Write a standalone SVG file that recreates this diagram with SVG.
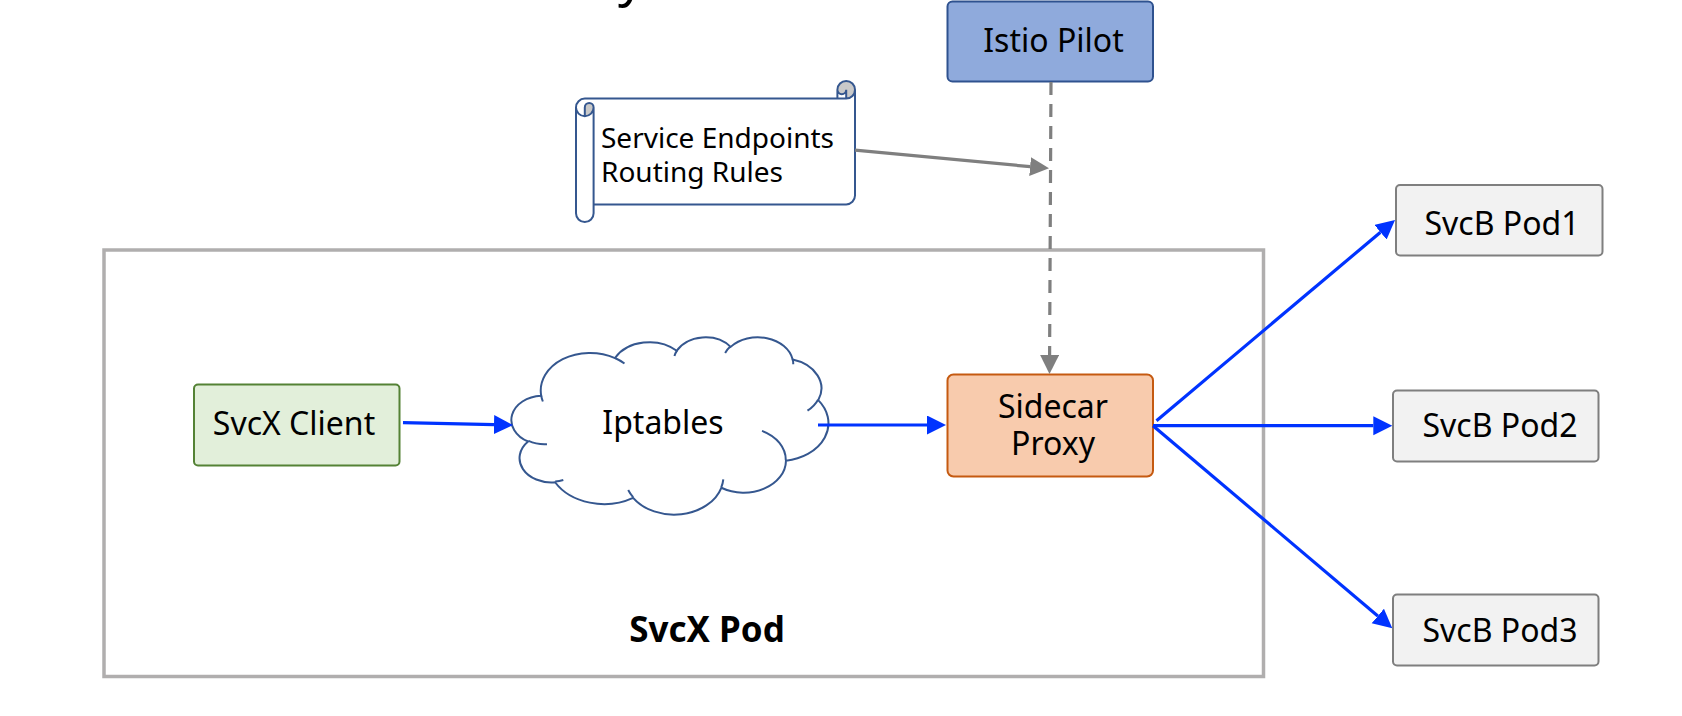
<svg xmlns="http://www.w3.org/2000/svg" width="1682" height="716" viewBox="0 0 1682 716">
<style>
text{font-family:"Noto Sans","Open Sans","Liberation Sans",sans-serif;fill:#000}
.lbl{font-size:32px;text-anchor:middle}
.box{stroke-width:2}
.pod{fill:#f2f2f2;stroke:#7f7f7f;stroke-width:2}
.blue{stroke:#0033ff;stroke-width:3.2;fill:none}
.gray{stroke:#7f7f7f;stroke-width:3.2;fill:none}
.cl{stroke:#35578f;stroke-width:2}
</style>
<defs>
<marker id="ab" markerUnits="userSpaceOnUse" markerWidth="20" markerHeight="20" refX="0" refY="9.5" orient="auto" viewBox="0 0 20 20"><path d="M0,0 L19,9.5 L0,19 Z" fill="#0033ff"/></marker>
<marker id="ag" markerUnits="userSpaceOnUse" markerWidth="20" markerHeight="20" refX="0" refY="9.5" orient="auto" viewBox="0 0 20 20"><path d="M0,0 L19,9.5 L0,19 Z" fill="#7f7f7f"/></marker>
</defs>
<rect width="1682" height="716" fill="#fff"/>
<text x="618" y="-5" style="font-size:52px">y</text>
<g id="svcx-pod">
<rect x="104" y="250" width="1159.5" height="426.5" fill="none" stroke="#b0aeae" stroke-width="3.5"/>
<text x="707" y="642" class="lbl" style="font-weight:bold;font-size:35px">SvcX Pod</text>
</g>
<g id="istio-pilot">
<rect x="947.5" y="1.5" width="205.5" height="80" rx="5" class="box" fill="#8faadc" stroke="#2f528f"/>
<text x="1053.5" y="52" class="lbl">Istio Pilot</text>
</g>
<g id="scroll">
<path d="M576,107.4 A8.8,8.8 0 0 1 584.8,98.6 L837.4,98.6 L837.4,89.8 A8.8,8.8 0 0 1 855,89.8 L855,195.6 A8.8,8.8 0 0 1 846.2,204.4 L593.6,204.4 L593.6,213.2 A8.8,8.8 0 0 1 576,213.2 Z" fill="#fff" stroke="none"/>
<path d="M584.8,116.2 A8.8,8.8 0 0 0 593.6,107.4 A4.4,4.4 0 0 0 584.8,107.4 Z M846.2,98.6 A8.8,8.8 0 1 0 837.4,89.8 A4.4,4.4 0 0 0 846.2,89.8 Z" fill="#c9c9c9" stroke="none"/>
<path d="M576,107.4 A8.8,8.8 0 0 1 584.8,98.6 L837.4,98.6 L837.4,89.8 A8.8,8.8 0 0 1 855,89.8 L855,195.6 A8.8,8.8 0 0 1 846.2,204.4 L593.6,204.4 L593.6,213.2 A8.8,8.8 0 0 1 576,213.2 Z M837.4,98.6 L846.2,98.6 A8.8,8.8 0 0 0 855,89.8 M846.2,98.6 L846.2,89.8 A4.4,4.4 0 0 1 837.4,89.8 M584.8,116.2 L584.8,107.4 A4.4,4.4 0 0 1 593.6,107.4 A8.8,8.8 0 0 1 576,107.4 M593.6,107.4 L593.6,204.4" fill="none" stroke="#35578f" stroke-width="2"/>
<text x="601" y="148" style="font-size:28px">Service Endpoints</text>
<text x="601" y="182" style="font-size:28px">Routing Rules</text>
</g>
<g id="svcx-client">
<rect x="194" y="384.5" width="205.5" height="81" rx="4" class="box" fill="#e2efda" stroke="#548235"/>
<text x="294" y="435" class="lbl">SvcX Client</text>
</g>
<g id="iptables">
<path transform="translate(512.7 336.7) scale(0.0073056 0.0041042)" vector-effect="non-scaling-stroke" class="cl" fill="#fff" d="M3900,14370 A6753,9190 0 0 1 14005.7,5202.6 A5333,7267 0 0 1 22457.2,3431.5 A4365,5945 0 0 1 29835,2480.2 A4857,6595 0 0 1 38320.6,5574.9 A5333,7273 0 0 1 41820.9,15458.7 A6775,9220 0 0 1 37405.5,30199.3 A5785,7867 0 0 1 28557,36809.5 A6752,9215 0 0 1 16482,39262.5 A7720,10543 0 0 1 5804.4,35466.9 A4360,5918 0 0 1 2112.2,25546.4 A4345,5945 0 0 1 3900,14370 Z"/>
<path transform="translate(512.7 336.7) scale(0.0073056 0.0041042)" vector-effect="non-scaling-stroke" class="cl" fill="none" d="M4693,26177 A4345,5945 0 0 1 2159.7,25379.7 M6928,34899 A4360,5918 0 0 1 5818.8,35280.9 M16478,39090 A6752,9215 0 0 1 15809.1,37347.4 M28827,34751 A6752,9215 0 0 1 28560.5,36659.6 M34129,22954 A5785,7867 0 0 1 37380.6,30089.8 M41798,15354 A5333,7273 0 0 1 40349.4,18030.9 M38324,5426 A4857,6595 0 0 1 38400.4,6689.5 M29078,3952 A4857,6595 0 0 1 29819.2,2341 M22141,4720 A4365,5945 0 0 1 22499.9,3330.8 M14000,5192 A6753,9190 0 0 1 15299.8,6540.6 M4127,15789 A6753,9190 0 0 1 3900,14370"/>
<text x="663" y="434" class="lbl">Iptables</text>
</g>
<g id="sidecar-proxy">
<rect x="947.5" y="374.5" width="205.5" height="102" rx="6" class="box" fill="#f8cbad" stroke="#c55a11"/>
<text x="1053" y="418" class="lbl">Sidecar</text>
<text x="1053" y="455" class="lbl">Proxy</text>
</g>
<g id="svcb-pod1">
<rect x="1396" y="185" width="206.5" height="70.5" rx="4" class="pod"/>
<text x="1502" y="235" class="lbl">SvcB Pod1</text>
</g>
<g id="svcb-pod2">
<rect x="1393" y="390.5" width="205.5" height="71" rx="4" class="pod"/>
<text x="1500" y="437" class="lbl">SvcB Pod2</text>
</g>
<g id="svcb-pod3">
<rect x="1393" y="594.5" width="205.5" height="71" rx="4" class="pod"/>
<text x="1500" y="642" class="lbl">SvcB Pod3</text>
</g>
<g id="connectors">
<line x1="403" y1="422.6" x2="494" y2="424.6" class="blue" marker-end="url(#ab)"/>
<line x1="818" y1="425" x2="927" y2="425" class="blue" marker-end="url(#ab)"/>
<line x1="1156.5" y1="420.7" x2="1380.5" y2="232.2" class="blue" marker-end="url(#ab)"/>
<line x1="1153" y1="425.7" x2="1373.3" y2="425.7" class="blue" marker-end="url(#ab)"/>
<line x1="1153" y1="425.7" x2="1377.8" y2="616" class="blue" marker-end="url(#ab)"/>
<line x1="855" y1="150.2" x2="1030.1" y2="166.6" class="gray" marker-end="url(#ag)"/>
<line x1="1051" y1="82" x2="1049.6" y2="355" class="gray" stroke-dasharray="13 9" marker-end="url(#ag)"/>
</g>
</svg>
